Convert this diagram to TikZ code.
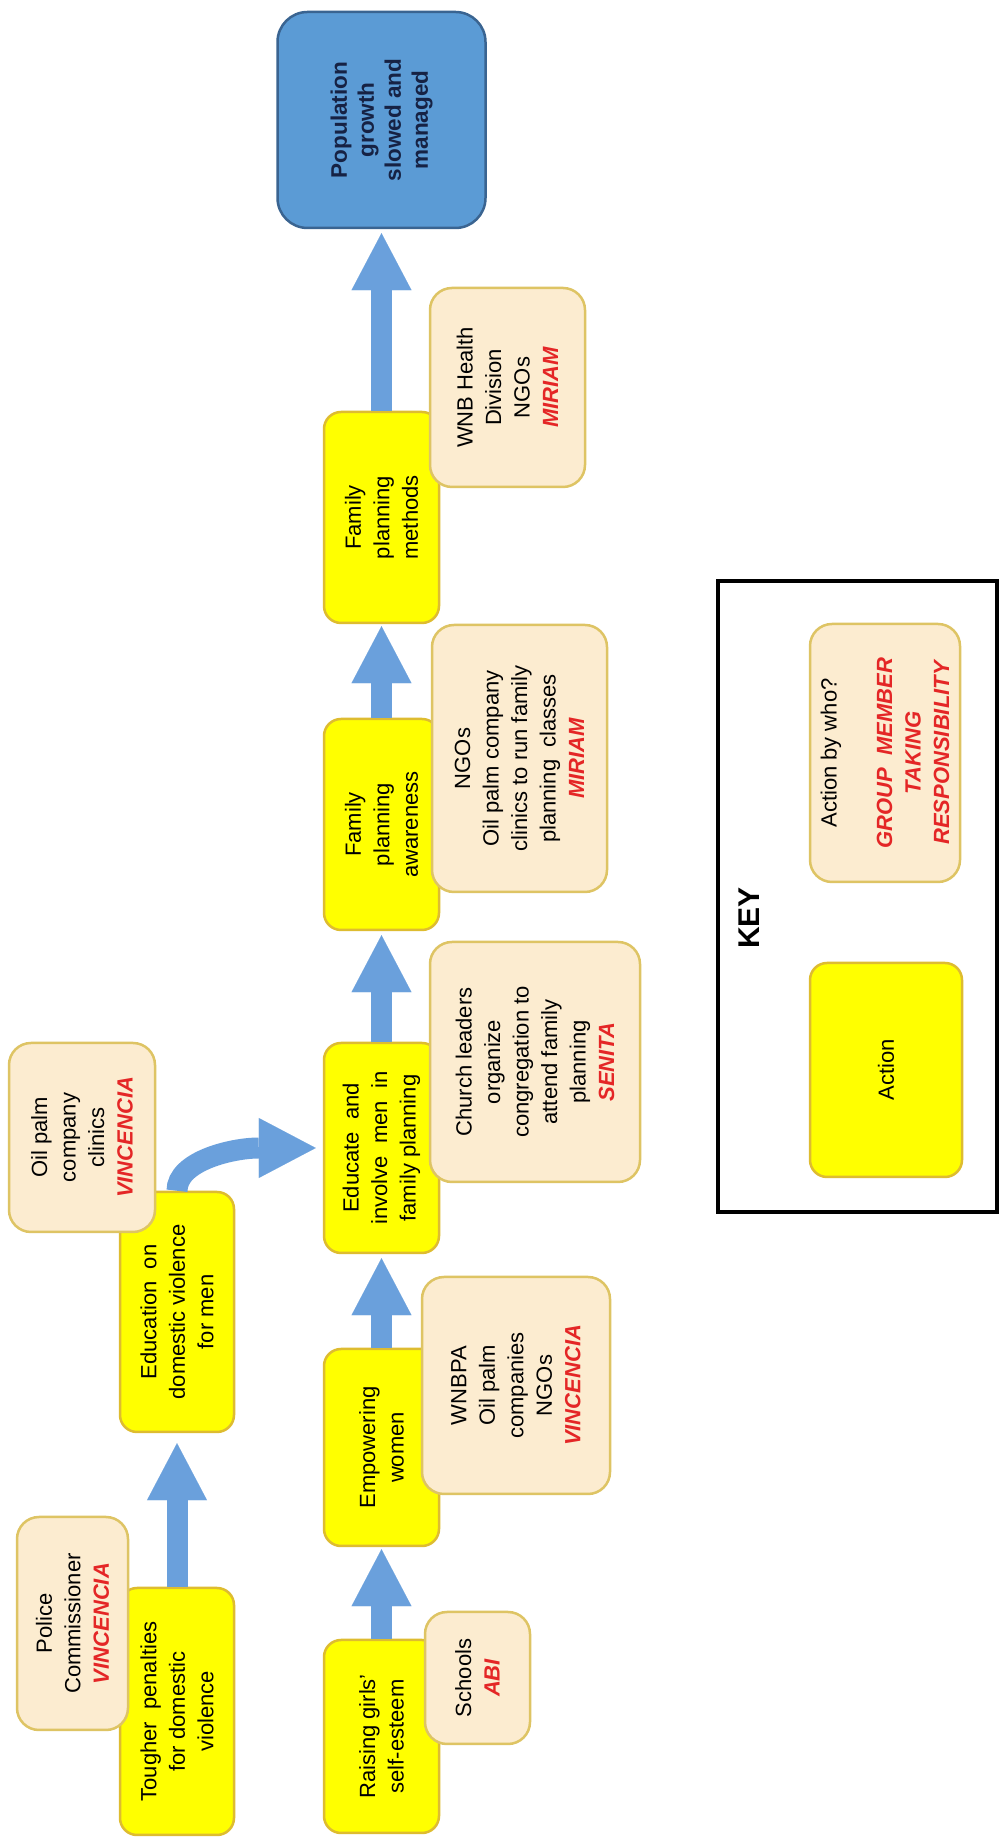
\documentclass[tikz,border=0pt]{standalone}
\usepackage{fontspec}
\setmainfont{Liberation Sans}
\usetikzlibrary{arrows.meta}
\definecolor{yfill}{RGB}{255,255,0}
\definecolor{ybord}{RGB}{222,188,48}
\definecolor{bfill}{RGB}{252,236,208}
\definecolor{bbord}{RGB}{222,196,100}
\definecolor{popfill}{RGB}{91,155,213}
\definecolor{popbord}{RGB}{58,100,145}
\definecolor{arrowblue}{RGB}{106,160,220}
\definecolor{namered}{RGB}{228,38,38}
\definecolor{navy}{RGB}{22,34,68}
\newcommand{\pname}[1]{{\color{namered}\bfseries\itshape #1}}
\begin{document}
\begin{tikzpicture}[x=1pt,y=1pt,
  txtbase/.style={align=center, inner sep=0pt, font=\fontsize{22}{28.5}\selectfont},
  sz/.style 2 args={minimum width=#1pt, minimum height=#2pt},
  actbox/.style={txtbase, draw=ybord, fill=yfill, line width=2.5pt, rounded corners=17pt},
  whobox/.style={txtbase, draw=bbord, fill=bfill, line width=2.5pt, rounded corners=22pt},
  goalbox/.style={txtbase, draw=popbord, fill=popfill, line width=2.5pt, rounded corners=30pt, text=navy, font=\fontsize{22.5}{27}\selectfont\bfseries},
  blockarrow/.style={draw=arrowblue, line width=21pt, -{Triangle[width=60pt, length=57pt, line width=0.1pt]}, shorten >=4pt}
]
\fill[white] (0,0) rectangle (1002,1839);
\useasboundingbox (0,0) rectangle (1002,1839);
\begin{scope}[rotate=90, transform shape]
% action boxes
\node[actbox, sz={247}{114}] (tougher) at (127.5,-177) {Tougher\ \ penalties\\for domestic\\violence};
\node[actbox, sz={240}{114}] (education) at (527,-177) {Education\ \ on\\domestic violence\\for men};
\node[actbox, sz={193}{115}] (raising) at (102.5,-381.5) {Raising girls'\\self-esteem};
\node[actbox, sz={197}{115}] (empower) at (391.5,-381.5) {Empowering\\women};
\node[actbox, sz={210}{115}] (educate) at (691,-381.5) {Educate\ \ and\\involve\ \ men\ \ in\\family planning};
\node[actbox, sz={211}{115}] (fpa) at (1014.5,-381.5) {Family\\planning\\awareness};
\node[actbox, sz={211}{115}] (fpm) at (1321.5,-381.5) {Family\\planning\\methods};
\node[goalbox, sz={216}{208}] (pop) at (1719,-381.5) {Population\\growth\\slowed and\\managed};
% arrows
\draw[blockarrow, shorten >=10pt] (tougher.east) -- (education.west);
\draw[blockarrow, shorten >=2pt] (raising.east) -- (empower.west);
\draw[blockarrow] (empower.east) -- (educate.west);
\draw[blockarrow] (educate.east) -- (fpa.west);
\draw[blockarrow, shorten >=2pt] (fpa.east) -- (fpm.west);
\draw[blockarrow] (fpm.east) -- (pop.west);
\draw[blockarrow, shorten >=7pt] (education.east) .. controls +(30,0) and +(0,90) .. (educate.north);
% responsibility boxes
\node[whobox, sz={213}{111}] (police) at (215.5,-72.5) {Police\\Commissioner\\\pname{VINCENCIA}};
\node[whobox, sz={189}{146}] (oilclinics) at (701.5,-82) {Oil palm\\company\\clinics\\\pname{VINCENCIA}};
\node[whobox, sz={132}{105}] (schools) at (161,-477.5) {Schools\\\pname{ABI}};
\node[whobox, sz={217}{188}] (wnbpa) at (453.5,-516) {WNBPA\\Oil palm\\companies\\NGOs\\\pname{VINCENCIA}};
\node[whobox, sz={240}{210}] (church) at (777,-535) {Church leaders\\organize\\congregation to\\attend family\\planning\\\pname{SENITA}};
\node[whobox, sz={267}{175}] (ngos) at (1080.5,-519.5) {NGOs\\Oil palm company\\clinics to run family\\planning\ \ classes\\\pname{MIRIAM}};
\node[whobox, sz={199}{155}] (wnb) at (1451.5,-507.5) {WNB Health\\Division\\NGOs\\\pname{MIRIAM}};
% key
\node[draw=black, line width=3.5pt, sz={631}{279}] (keybox) at (942.5,-857.5) {};
\node[font=\fontsize{30}{36}\selectfont\bfseries, inner sep=0pt] (keylabel) at (921,-749) {KEY};
\node[actbox, sz={214}{152}] (keyact) at (769,-886) {Action};
\node[whobox, sz={258}{150}] (keywho) at (1086,-885) {Action by who?\\[27pt]\pname{GROUP\ \ MEMBER}\\\pname{TAKING}\\\pname{RESPONSIBILITY}};
\end{scope}
\end{tikzpicture}
\end{document}
